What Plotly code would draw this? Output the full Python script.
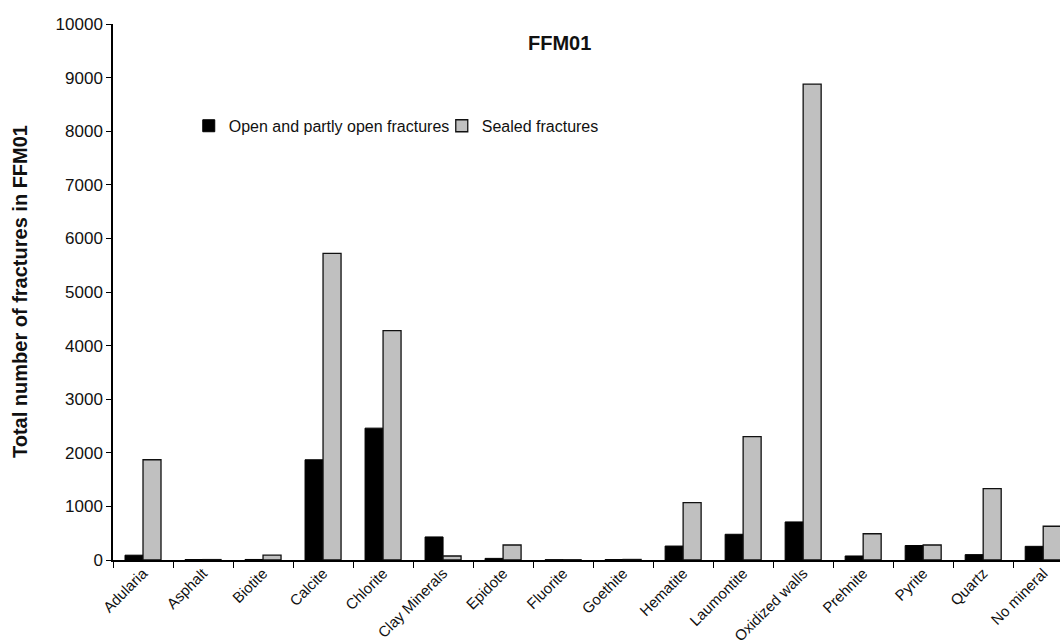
import plotly.graph_objects as go

minerals = ["Adularia", "Asphalt", "Biotite", "Calcite", "Chlorite", "Clay Minerals",
            "Epidote", "Fluorite", "Goethite", "Hematite", "Laumontite", "Oxidized walls",
            "Prehnite", "Pyrite", "Quartz", "No mineral"]
open_fractures = [90, 8, 10, 1870, 2460, 430, 30, 5, 8, 260, 480, 710, 75, 270, 100, 255]
sealed_fractures = [1870, 8, 90, 5720, 4280, 75, 280, 5, 10, 1070, 2300, 8880, 490, 280, 1330, 630]

FONT = "Liberation Sans, Arial, sans-serif"

fig = go.Figure()
fig.add_trace(go.Bar(
    x=minerals, y=open_fractures, name="Open and partly open fractures",
    marker=dict(color="#000000", line=dict(color="#000000", width=1)),
))
fig.add_trace(go.Bar(
    x=minerals, y=sealed_fractures, name="Sealed fractures",
    marker=dict(color="#c0c0c0", line=dict(color="#111111", width=1.3)),
))

fig.update_layout(
    width=1060, height=644,
    margin=dict(l=113, r=0, t=24, b=84),
    plot_bgcolor="white", paper_bgcolor="white",
    barmode="group", bargap=0.4, bargroupgap=0,
    font=dict(family=FONT, size=16, color="#111111"),
    showlegend=True,
    legend=dict(orientation="h", x=0.080, y=0.81, xanchor="left", yanchor="middle",
                font=dict(size=16), bgcolor="rgba(0,0,0,0)", itemwidth=30,
                traceorder="normal", entrywidth=208),
    annotations=[
        dict(text="<b>FFM01</b>", x=0.472, y=0.965, xref="paper", yref="paper",
             xanchor="center", yanchor="middle", showarrow=False,
             font=dict(size=20, family=FONT, color="#111111")),
        dict(text="<b>Total number of fractures in FFM01</b>", x=(20 - 113) / 947, y=0.5,
             xref="paper", yref="paper", xanchor="center", yanchor="middle",
             showarrow=False, textangle=-90,
             font=dict(size=20, family=FONT, color="#111111")),
    ],
)
fig.update_xaxes(
    type="category", range=[-0.5, 15.28], automargin=False,
    showline=True, linecolor="#000000", linewidth=1.5,
    ticks="outside", tickson="boundaries", ticklen=6, tickcolor="#000000",
    tickangle=-45, tickfont=dict(size=15), ticklabelstandoff=-3, showgrid=False,
)
fig.update_yaxes(
    range=[0, 10000], dtick=1000, tickformat="d", automargin=False,
    showline=True, linecolor="#000000", linewidth=1.5,
    ticks="outside", ticklen=5, tickcolor="#000000", showgrid=False, zeroline=False,
    tickfont=dict(size=17),
)

fig.write_html("out.html")
